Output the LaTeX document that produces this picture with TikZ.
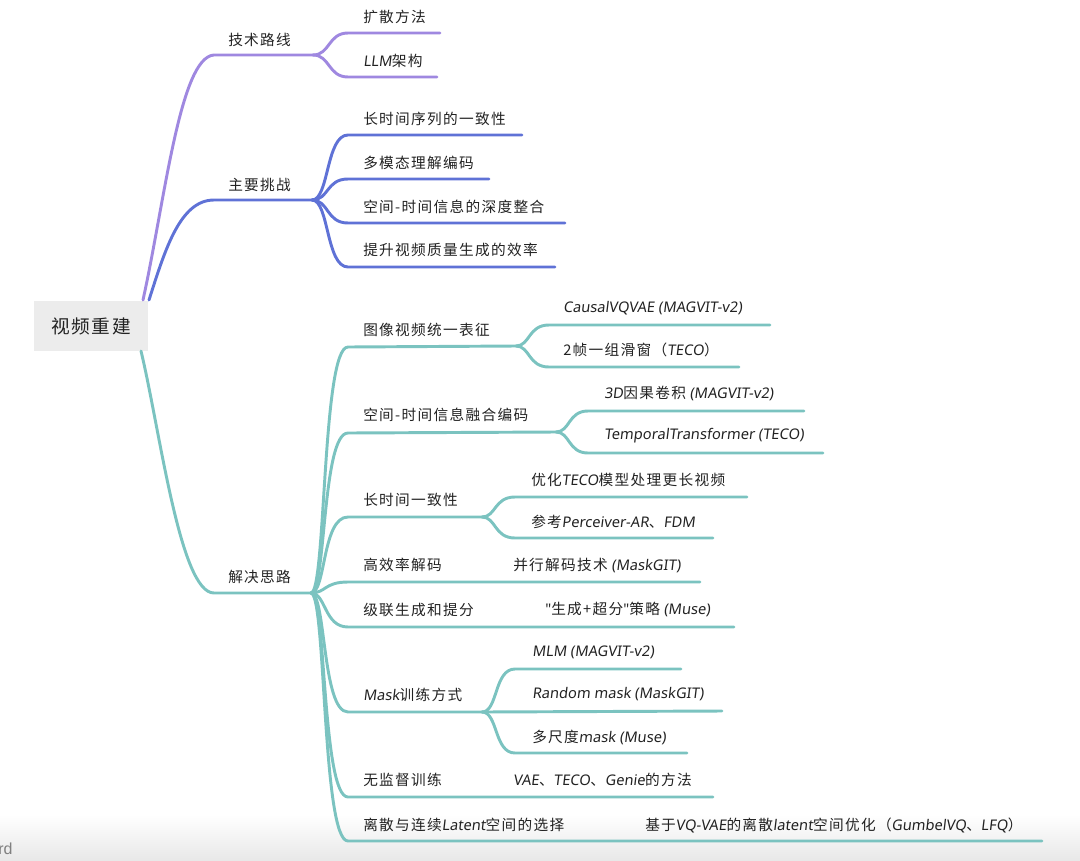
\documentclass[tikz,border=0pt]{standalone}
\usepackage{fontspec}
\setmainfont{Noto Sans CJK SC}[LetterSpace=9]
\newfontfamily\la{Noto Sans}[FakeSlant=0.12]
\newfontfamily\qf{Noto Sans}[Ligatures=TeXOff]
\newfontfamily\wm{Liberation Sans}
\definecolor{cP}{HTML}{9F88E0}
\definecolor{cB}{HTML}{5F72D6}
\definecolor{cT}{HTML}{7BC3C0}
\definecolor{txt}{HTML}{222222}
\definecolor{rootfill}{HTML}{ECECEC}
\tikzset{
  lbl/.style={anchor=west, inner sep=0pt, text=txt, font=\fontsize{11}{13}\selectfont},
  rootbox/.style={fill=rootfill, minimum width=86pt, minimum height=38pt, inner sep=0pt, text=txt, font=\fontsize{14}{16}\selectfont},
  purp/.style={draw=cP, line width=2.2pt, line cap=round, line join=round},
  blu/.style={draw=cB, line width=2.2pt, line cap=round, line join=round},
  teal/.style={draw=cT, line width=2.2pt, line cap=round, line join=round},
}
\begin{document}
\begin{tikzpicture}[x=0.75pt,y=-0.75pt]
\useasboundingbox (0,0) rectangle (1080,860);
\shade[top color=white, bottom color=black!9] (0,815) rectangle (1080,860);
\node[anchor=west, inner sep=0pt, text=black!50, font=\wm\fontsize{12}{14}\selectfont] (wmk) at (-2,849) {rd};

% root
\node[rootbox] (root) at (91,326) {视频重建};

% junction coordinates
\coordinate (pS) at (143,300);
\coordinate (pH) at (214,55);
\coordinate (pJ) at (313,55);
\coordinate (bS) at (149,300);
\coordinate (bH) at (214,200);
\coordinate (bJ) at (312,200);
\coordinate (tS) at (141,351);
\coordinate (tH) at (214,593);
\coordinate (tJ) at (311,593);

% main branches
\draw[purp] (pS) .. controls (165,200) and (180,57) .. (pH) -- (pJ);
\draw[blu] (bS) .. controls (165,250) and (180,200) .. (bH) -- (bJ);
\draw[teal] (tS) .. controls (160,430) and (180,593) .. (tH) -- (tJ);

\node[lbl] (n1) at (228,40) {技术路线};
\node[lbl] (n2) at (228,185) {主要挑战};
\node[lbl] (n3) at (228,577) {解决思路};

% purple children
\coordinate (p1) at (440,33);
\coordinate (p2) at (437,77);
\draw[purp] (pJ) .. controls (330,55) and (328,33) .. (348,33) -- (p1);
\draw[purp] (pJ) .. controls (330,55) and (328,77) .. (348,77) -- (p2);
\node[lbl] (n11) at (363,17) {扩散方法};
\node[lbl] (n12) at (363,61) {{\la LLM}架构};

% blue children
\coordinate (b1) at (522,135);
\coordinate (b2) at (489,179);
\coordinate (b3) at (565,223);
\coordinate (b4) at (555,267);
\draw[blu] (bJ) .. controls (329,200) and (326,135) .. (348,135) -- (b1);
\draw[blu] (bJ) .. controls (329,200) and (326,179) .. (348,179) -- (b2);
\draw[blu] (bJ) .. controls (329,200) and (326,223) .. (348,223) -- (b3);
\draw[blu] (bJ) .. controls (329,200) and (326,267) .. (348,267) -- (b4);
\node[lbl] (n21) at (363,119) {长时间序列的一致性};
\node[lbl] (n22) at (363,163) {多模态理解编码};
\node[lbl] (n23) at (363,207) {空间-时间信息的深度整合};
\node[lbl] (n24) at (363,250) {提升视频质量生成的效率};

% teal children
\coordinate (j1) at (516,346);
\coordinate (j2) at (556,432);
\coordinate (j3) at (482,517);
\coordinate (e4) at (700,582);
\coordinate (e5) at (734,627);
\coordinate (j6) at (482,712);
\coordinate (e7) at (713,797);
\coordinate (e8) at (1042,841);
\draw[teal] (tJ) .. controls (326,593) and (322,347) .. (348,347) -- (j1);
\draw[teal] (tJ) .. controls (326,593) and (322,433) .. (348,433) -- (j2);
\draw[teal] (tJ) .. controls (326,593) and (322,517) .. (348,517) -- (j3);
\draw[teal] (tJ) .. controls (326,593) and (324,582) .. (348,582) -- (e4);
\draw[teal] (tJ) .. controls (326,593) and (324,627) .. (348,627) -- (e5);
\draw[teal] (tJ) .. controls (326,593) and (322,712) .. (348,712) -- (j6);
\draw[teal] (tJ) .. controls (326,593) and (322,797) .. (348,797) -- (e7);
\draw[teal] (tJ) .. controls (326,593) and (322,841) .. (348,841) -- (e8);

\node[lbl] (n31) at (363,330) {图像视频统一表征};
\node[lbl] (n32) at (363,415) {空间-时间信息融合编码};
\node[lbl] (n33) at (363,500) {长时间一致性};
\node[lbl] (n34) at (363,565) {高效率解码};
\node[lbl] (n35) at (363,610) {级联生成和提分};
\node[lbl] (n36) at (363,695) {{\la Mask}训练方式};
\node[lbl] (n37) at (363,780) {无监督训练};
\node[lbl] (n38) at (363,825) {离散与连续{\la Latent}空间的选择};

% grandchildren
\coordinate (g11) at (770,325);
\coordinate (g12) at (739,367);
\draw[teal] (j1) .. controls (530,346) and (528,325) .. (549,325) -- (g11);
\draw[teal] (j1) .. controls (530,346) and (528,367) .. (549,367) -- (g12);
\node[lbl] (n311) at (563,308) {{\la CausalVQVAE (MAGVIT-v2)}};
\node[lbl] (n312) at (563,350) {2帧一组滑窗（{\la TECO}）};

\coordinate (g21) at (804,411);
\coordinate (g22) at (823,453);
\draw[teal] (j2) .. controls (570,432) and (568,411) .. (588,411) -- (g21);
\draw[teal] (j2) .. controls (570,432) and (568,453) .. (588,453) -- (g22);
\node[lbl] (n321) at (604,393) {{\la 3D}因果卷积{\la\ (MAGVIT-v2)}};
\node[lbl] (n322) at (604,436) {{\la TemporalTransformer (TECO)}};

\coordinate (g31) at (747,497);
\coordinate (g32) at (713,538);
\draw[teal] (j3) .. controls (496,517) and (494,497) .. (515,497) -- (g31);
\draw[teal] (j3) .. controls (496,517) and (494,538) .. (515,538) -- (g32);
\node[lbl] (n331) at (531,480) {优化{\la TECO}模型处理更长视频};
\node[lbl] (n332) at (531,522) {参考{\la Perceiver-AR}、{\la FDM}};

\node[lbl] (n341) at (513,565) {并行解码技术{\la\ (MaskGIT)}};
\node[lbl] (n351) at (545,609) {{\qf "}生成+超分{\qf "}策略{\la\ (Muse)}};

\coordinate (g61) at (681,669);
\coordinate (g62) at (722,711);
\coordinate (g63) at (687,753);
\draw[teal] (j6) .. controls (498,712) and (494,669) .. (515,669) -- (g61);
\draw[teal] (j6) -- (g62);
\draw[teal] (j6) .. controls (498,712) and (494,753) .. (515,753) -- (g63);
\node[lbl] (n361) at (532,652) {{\la MLM (MAGVIT-v2)}};
\node[lbl] (n362) at (532,694) {{\la Random mask (MaskGIT)}};
\node[lbl] (n363) at (532,737) {多尺度{\la mask (Muse)}};

\node[lbl] (n371) at (513,780) {{\la VAE}、{\la TECO}、{\la Genie}的方法};
\node[lbl] (n381) at (645,825) {基于{\la VQ-VAE}的离散{\la latent}空间优化（{\la GumbelVQ}、{\la LFQ}）};
\end{tikzpicture}
\end{document}
